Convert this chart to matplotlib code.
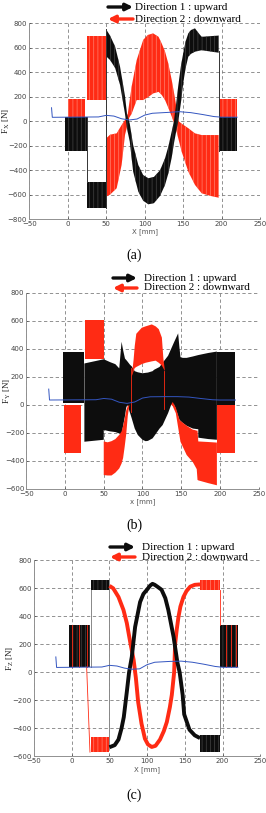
import matplotlib
matplotlib.use("Agg")
from matplotlib import pyplot as plt

plt.rcParams['hatch.linewidth'] = 0.45
plt.rcParams['mathtext.default'] = 'regular'

RED = '#ff2b14'
BLK = '#0d0d0d'
BLUE = '#3355c0'
RED_HATCH = '#ff8a78'
BLK_HATCH = '#4a4a4a'
W, H = 266, 813

# blue reference line (same x for every panel)
blue_x = [-21, -20, 40, 50, 60, 70, 80, 90, 100, 110, 130, 145, 160, 175, 190, 200, 220]
a_blue_y = [110, 32, 35, 48, 42, 20, 10, 18, 50, 65, 72, 78, 70, 55, 38, 33, 33]
b_blue_y = [112, 34, 36, 45, 40, 18, 10, 20, 48, 57, 58, 58, 55, 45, 36, 34, 34]
c_blue_y = [110, 35, 38, 50, 45, 30, 22, 25, 55, 72, 78, 80, 72, 58, 42, 36, 36]

# ---- (a) Fx : bands (x, lower, upper) and blocks (x0, x1, y0, y1)
a_blk_x = [50, 55, 61.6, 68, 74.4, 77, 80.6, 85, 91.7, 98, 104.7, 112, 120, 126.4, 131, 135, 138,
           141.6, 143.6, 147, 150, 153, 156.6, 160, 165.3, 170, 174, 185, 196]
a_blk_hi = [750, 700, 610, 445, 206, 60, -20, -194, -358, -440, -466, -455, -400, -303, -200, -85, 0,
            180, 290, 450, 555, 650, 718, 745, 759, 720, 690, 695, 700]
a_blk_lo = [530, 500, 435, 296, 60, -60, -167, -412, -576, -650, -679, -670, -610, -521, -420, -300, -180,
            -60, 0, 150, 310, 430, 527, 550, 568, 575, 580, 570, 560]
a_red_x = [50, 55, 63.6, 70, 74.4, 78, 80, 83, 89.6, 98, 104, 111, 118, 122, 126.4, 130.6, 135, 139,
           142, 144, 148, 156.6, 165.3, 174, 185, 196]
a_red_hi = [-140, -110, -99, -31, 10, 60, 150, 282, 500, 664, 705, 718, 690, 637, 570, 473, 340, 200,
            80, 0, -20, -57, -99, -113, -113, -113]
a_red_lo = [-617, -600, -548, -358, -113, -20, 30, 60, 173, 173, 195, 227, 240, 215, 173, 110, 40, -30,
            -100, -150, -249, -412, -521, -589, -610, -625]
a_red_blocks = [(0, 23, 0, 181), (25, 50, 173, 695), (196, 220, 0, 181)]
a_blk_blocks = [(-4, 25, -245, 32), (25, 50, -710, -496), (196, 220, -245, 32)]
a_vlines = [(25, -496, 32), (50, -710, 750), (196, -245, 570)]

# ---- (b) Fy
b_blk_x = [25, 50, 50, 58, 65, 70, 73, 75, 77.4, 79, 80.5, 84, 86, 90, 94, 100, 104, 107, 113, 115,
           122, 126, 133, 137, 141, 146, 147.5, 149, 152, 157, 165, 172, 172, 185, 196]
b_blk_hi = [295, 325, 325, 305, 290, 260, 450, 390, 330, 320, 310, 285, 275, 240, 232, 225, 228, 230,
            240, 250, 270, 300, 350, 400, 450, 510, 420, 340, 335, 335, 345, 355, 355, 370, 380]
b_blk_lo = [-264, -250, -180, -190, -195, -205, -215, -150, -80, -20, 0, -60, -95, -170, -216, -250,
            -260, -258, -240, -225, -170, -145, -60, 0, 0, -80, -105, -115, -130, -150, -170, -175,
            -235, -245, -250]
b_blk_blocks = [(-3, 25, 10, 380), (196, 220, 0, 380)]
b_red_blocks = [(-1, 21, -347, 0), (26, 50, 325, 605), (196, 220, -345, 0)]
b_redl_x = [50, 55, 60, 65, 70, 73, 75, 77, 79, 81, 83]
b_redl_hi = [-262, -268, -260, -245, -215, -190, -150, -100, -40, -10, 0]
b_redl_lo = [-502, -505, -505, -485, -455, -420, -380, -300, -210, -80, -5]
b_arc_x = [86, 88.5, 90, 92, 99, 104, 112, 117, 121, 125, 127, 129]
b_arc_hi = [200, 320, 420, 507, 550, 560, 574, 560, 540, 480, 327, 240]
b_arc_lo = [200, 240, 262, 270, 290, 300, 310, 315, 300, 280, 260, 240]
b_redr_x = [137, 139, 143, 148, 149, 157, 165, 167, 170, 171, 172, 185, 196]
b_redr_hi = [0, 20, -20, -110, -115, -150, -178, -180, -185, -185, -262, -266, -270]
b_redr_lo = [0, -10, -60, -230, -264, -359, -410, -430, -460, -537, -540, -560, -575]
b_red_lines = [(85, -50, 260), (128, -30, 240)]

# ---- (c) Fz
c_red_x = [50, 55, 62, 68.6, 73, 77.7, 82, 85, 88, 92.5, 97, 101, 106, 111, 117, 122, 126, 130, 132.6,
           135.7, 137, 139, 141.4, 144, 148, 152, 157, 163, 170]
c_red_y = [618, 600, 538, 445, 352, 210, 90, -40, -211, -367, -474, -515, -533, -525, -480, -420, -355,
           -250, -162, 0, 202, 300, 395, 470, 538, 580, 612, 625, 628]
c_blk_x = [50, 57, 62, 66, 69, 73, 76, 79.6, 84, 90.6, 95, 99.4, 104, 107, 110, 114, 119, 124, 128, 135,
           140, 143, 147, 149, 156, 163, 170]
c_blk_y = [-535, -520, -480, -400, -320, -140, 0, 110, 324, 502, 560, 588, 620, 632, 625, 610, 590, 530,
           445, 252, 70, 0, -162, -300, -410, -450, -470]
c_blk_blocks = [(-4, 24, 38, 338), (25, 50, 588, 660), (170, 196, -570, -450), (196, 220, 38, 338)]
c_red_blocks = [(25, 50, -570, -462), (170, 196, 588, 662)]
c_vlines = [(25, 38, 588), (50, -540, 660), (196, -450, 38)]
c_red_ticks = [1, 10, 20, 204, 211, 217]


def frame(ax, ylim, ylabel, xlabel, lab_x):
    ax.set_xlim(-50, 250)
    ax.set_ylim(*ylim)
    ax.set_xticks(range(-50, 251, 50))
    ax.set_yticks(range(ylim[0], ylim[1] + 1, 200))
    ax.grid(True, ls=(0, (4, 3)), color='#808080', lw=0.6)
    ax.set_axisbelow(True)
    for s in ['top', 'right']:
        ax.spines[s].set_visible(False)
    for s in ['left', 'bottom']:
        ax.spines[s].set_color('#909090')
        ax.spines[s].set_linewidth(0.7)
    ax.tick_params(labelsize=5, colors='#444444', length=1.5, width=0.5, direction='in', pad=1.5)
    ax.set_ylabel(ylabel, fontsize=6.5, family='Liberation Serif', color='#222222')
    ax.yaxis.set_label_coords(lab_x, 0.5)
    ax.set_xlabel(xlabel, fontsize=5, color='#555555', labelpad=1)


def block(ax, b, color, hatch=None, hc=None):
    ax.fill_between([b[0], b[1]], b[2], b[3], facecolor=color, edgecolor=hc if hc else 'none',
                    hatch=hatch, linewidth=0, zorder=3)


def legend(fig, py1, py2, x0, x1, tx):
    for py, col, label, rev in [(py1, BLK, 'Direction 1 : upward', False),
                                (py2, RED, 'Direction 2 : downward', True)]:
        fy = 1 - py / H
        a, b = (x1, x0) if rev else (x0, x1)
        fig.add_artist(matplotlib.patches.FancyArrowPatch(
            (a / W, fy), (b / W, fy), transform=fig.transFigure, arrowstyle='-|>',
            mutation_scale=10, color=col, lw=2.4, shrinkA=0, shrinkB=0))
        fig.text(tx / W, fy, label, fontsize=8, family='Liberation Serif', va='center', ha='left')


fig = plt.figure(figsize=(W / 100, H / 100), dpi=100)

# (a)
ax = fig.add_axes([0.1098, 0.7305, 0.8684, 0.2408])
frame(ax, (-800, 800), r'$F_X$ [N]', 'X [mm]', -0.075)
ax.fill_between(a_red_x, a_red_lo, a_red_hi, facecolor=RED, edgecolor=RED_HATCH, hatch='||||',
                linewidth=0, zorder=3)
for b in a_red_blocks:
    block(ax, b, RED, '||||', RED_HATCH)
ax.fill_between(a_blk_x, a_blk_lo, a_blk_hi, facecolor=BLK, edgecolor=BLK_HATCH, hatch='||||',
                linewidth=0, zorder=4)
for b in a_blk_blocks:
    block(ax, b, BLK, '||||', BLK_HATCH)
for x, y0, y1 in a_vlines:
    ax.plot([x, x], [y0, y1], color='#333333', lw=0.7, zorder=4)
ax.plot(blue_x, a_blue_y, color=BLUE, lw=0.7, zorder=6)

# (b)
ax = fig.add_axes([0.0987, 0.3988, 0.874, 0.2411])
frame(ax, (-600, 800), r'$F_Y$ [N]', 'x [mm]', -0.058)
ax.fill_between(b_blk_x, b_blk_lo, b_blk_hi, facecolor=BLK, linewidth=0, zorder=3)
for b in b_blk_blocks:
    block(ax, b, BLK)
for b in b_red_blocks:
    block(ax, b, RED)
ax.fill_between(b_redl_x, b_redl_lo, b_redl_hi, facecolor=RED, linewidth=0, zorder=4)
ax.fill_between(b_arc_x, b_arc_lo, b_arc_hi, facecolor=RED, linewidth=0, zorder=4)
ax.fill_between(b_redr_x, b_redr_lo, b_redr_hi, facecolor=RED, linewidth=0, zorder=4)
for x, y0, y1 in b_red_lines:
    ax.plot([x, x], [y0, y1], color=RED, lw=0.6, zorder=5)
ax.plot(blue_x, b_blue_y, color=BLUE, lw=0.7, zorder=6)

# (c)
ax = fig.add_axes([0.1276, 0.0697, 0.8515, 0.2411])
frame(ax, (-600, 800), r'$F_Z$ [N]', 'X [mm]', -0.08)
for x, y0, y1 in c_vlines:
    ax.plot([x, x], [y0, y1], color='#888888', lw=0.7, zorder=3)
for b in c_blk_blocks:
    block(ax, b, BLK, '||||', BLK_HATCH)
for b in c_red_blocks:
    block(ax, b, RED, '||||', RED_HATCH)
for x in c_red_ticks:
    ax.plot([x, x], [40, 336], color=RED, lw=0.6, zorder=4)
ax.plot([19.8, 24.2], [38, -570], color=RED, lw=0.6, zorder=4)
ax.plot([196, 196], [338, 588], color=RED, lw=0.6, zorder=4)
ax.plot(c_red_x, c_red_y, color=RED, lw=2.8, zorder=4, solid_capstyle='butt')
ax.plot(c_blk_x, c_blk_y, color=BLK, lw=2.8, zorder=5, solid_capstyle='butt')
ax.plot(blue_x, c_blue_y, color=BLUE, lw=0.7, zorder=6)

legend(fig, 7, 19, 108, 133, 135)
legend(fig, 278, 288, 113, 137, 144)
legend(fig, 547, 557, 110, 135, 142)

for py, lab in [(255, '(a)'), (525, '(b)'), (795, '(c)')]:
    fig.text(134 / W, 1 - py / H, lab, fontsize=10, family='Liberation Serif', ha='center', va='center')

fig.savefig('out.png', dpi=100)
